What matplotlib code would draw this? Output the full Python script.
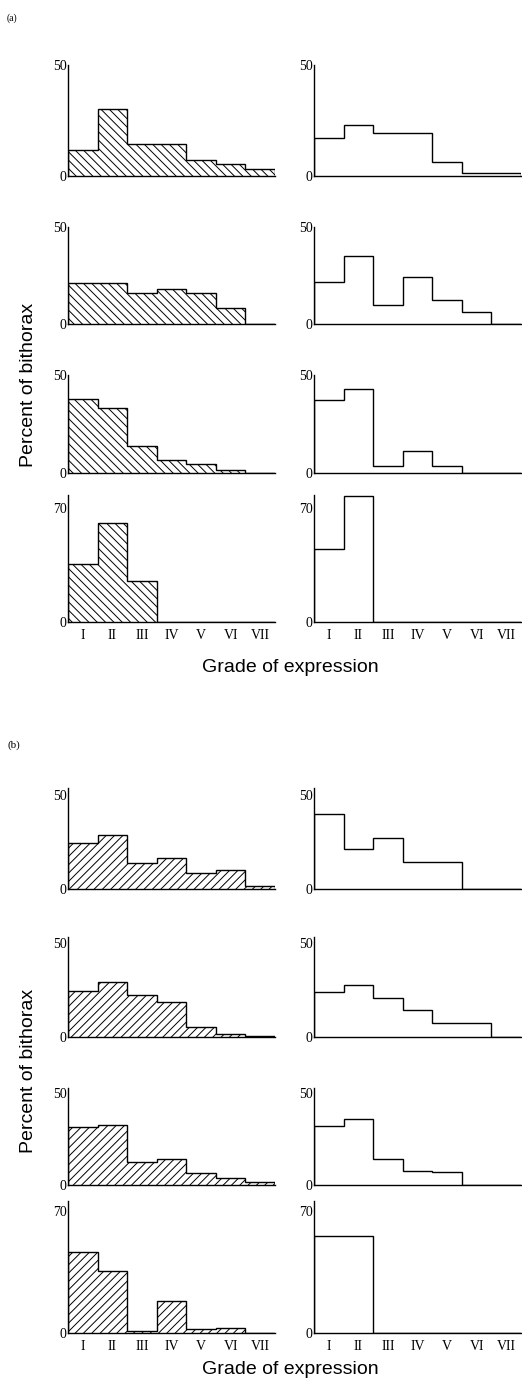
import matplotlib
matplotlib.use('Agg')
import matplotlib.pyplot as plt
import numpy as np

# grades of expression
grades = ['I', 'II', 'III', 'IV', 'V', 'VI', 'VII']

# percent of bithorax per grade, (a) hatched / open, rows top to bottom
a_hatched = [
    [11.6, 30, 14.3, 14.6, 7.4, 5.6, 3.3],
    [21, 21, 16, 18, 16, 8, 0],
    [38, 33, 13.7, 6.5, 4.4, 1.4, 0],
    [35.6, 61, 25.4, 0, 0, 0, 0],
]
a_open = [
    [17.2, 23.1, 19.4, 19.2, 6.3, 1.5, 1.5],
    [21.7, 34.9, 9.8, 24, 12.3, 6, 0],
    [37, 42.7, 3.4, 11, 3.4, 0, 0],
    [45, 77.5, 0, 0, 0, 0, 0],
]

# (b)
b_hatched = [
    [24.4, 28.8, 13.8, 16.4, 8.5, 9.9, 1.4],
    [24.5, 29.1, 22, 18.4, 5.4, 1.8, 0.7],
    [31.5, 32.7, 12.7, 14, 6.4, 4, 1.5],
    [46.4, 35.5, 1.3, 18.6, 2.3, 2.9, 0],
]
b_open = [
    [39.9, 21.1, 27, 14.5, 14.5, 0, 0],
    [24, 27.3, 20.5, 14.3, 7.5, 7.5, 0],
    [32.3, 35.9, 13.9, 7.6, 7.2, 0, 0],
    [55.7, 55.7, 0, 0, 0, 0, 0],
]
yticks_top = [50, 50, 50, 70]

W, H = 522, 1382
fig = plt.figure(figsize=(W / 100, H / 100), dpi=100)
plt.rcParams['hatch.linewidth'] = 0.7

serif = 'Liberation Serif'
sans = 'Liberation Sans'

# pixel layout: (top, zero) per row, and y limit
a_rows = [(65, 176), (227, 324), (375, 473), (495, 622)]
b_rows = [(788, 889), (937, 1037), (1088, 1185), (1201, 1333)]
a_ylim = [50, 50, 50, 78]
b_ylim = [53.5, 53, 52.8, 76]
cols = [(68, 275), (314, 521)]


def add_ax(x0, x1, top, zero):
    return fig.add_axes([x0 / W, 1 - zero / H, (x1 - x0) / W, (zero - top) / H])


def draw_panel(rows, ylims, hatched, opened, hatch):
    edges = np.arange(len(grades) + 1)
    for r, (top, zero) in enumerate(rows):
        for c, (x0, x1) in enumerate(cols):
            ax = add_ax(x0, x1, top, zero)
            vals = hatched[r] if c == 0 else opened[r]
            if c == 0:
                ax.stairs(vals, edges, baseline=0, fill=True, facecolor='none',
                          edgecolor='k', hatch=hatch, linewidth=0)
            ax.stairs(vals, edges, baseline=0, color='k', linewidth=1.0)
            ax.set_xlim(0, len(grades))
            ax.set_ylim(0, ylims[r])
            for s in ['top', 'right']:
                ax.spines[s].set_visible(False)
            for s in ['left', 'bottom']:
                ax.spines[s].set_linewidth(1.0)
            ax.set_yticks([0, yticks_top[r]])
            ax.set_yticklabels(['0', str(yticks_top[r])], family=serif, fontsize=10)
            ax.tick_params(axis='y', length=0, pad=1)
            if r == len(rows) - 1:
                ax.set_xticks(edges[:-1] + 0.5)
                ax.set_xticklabels(grades, family=serif, fontsize=10)
                ax.tick_params(axis='x', length=0, pad=5)
            else:
                ax.set_xticks([])


draw_panel(a_rows, a_ylim, a_hatched, a_open, '\\\\\\\\')
draw_panel(b_rows, b_ylim, b_hatched, b_open, '////')

fig.text(7 / W, 1 - 18 / H, '(a)', family=serif, fontsize=7, va='center')
fig.text(8 / W, 1 - 745 / H, '(b)', family=serif, fontsize=8, va='center')

for cy in [385, 1071]:
    fig.text(29 / W, 1 - cy / H, 'Percent of bithorax', family=sans, fontsize=14,
             rotation=90, ha='center', va='center')
fig.text(290 / W, 1 - 668 / H, 'Grade of expression', family=sans, fontsize=14,
         ha='center', va='center')
fig.text(290 / W, 1 - 1370 / H, 'Grade of expression', family=sans, fontsize=14,
         ha='center', va='center')

fig.savefig('out.png', dpi=100)
